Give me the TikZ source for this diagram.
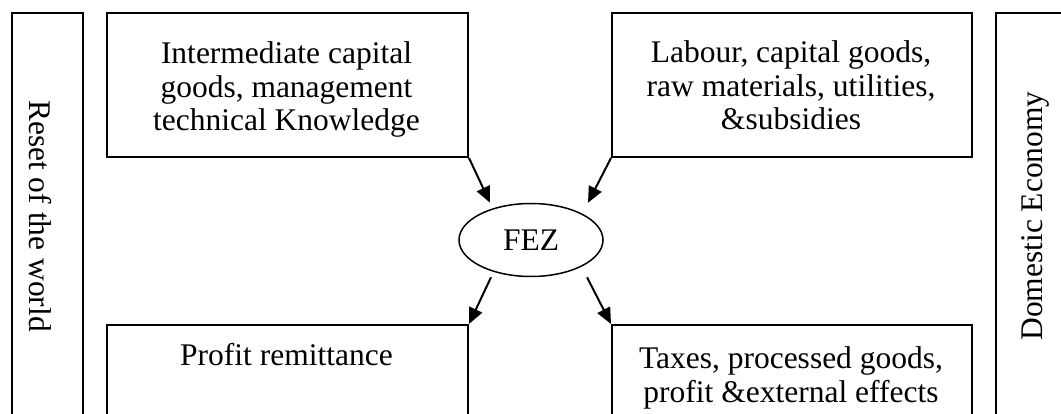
\documentclass[tikz,border=0pt]{standalone}
\usepackage{fontspec}
\setmainfont{Liberation Serif}
\usetikzlibrary{arrows.meta,shapes.geometric,calc}
\tikzset{
  boxshape/.style={draw=black, line width=2pt, rectangle, inner sep=0pt, anchor=north west},
  txt/.style={inner sep=0pt, align=center, font=\fontsize{31.5}{33.5}\selectfont},
  sidetxt/.style={inner sep=0pt, anchor=base, font=\fontsize{31.5}{33.5}\selectfont},
  arr/.style={line width=2pt, -{Triangle[length=16pt,width=14pt]}},
}
\begin{document}
\begin{tikzpicture}[x=1pt,y=-1pt]
\useasboundingbox (0,0) rectangle (1061,414);
\clip (0,0) rectangle (1061,414);
% side boxes
\node[boxshape, minimum width=71pt, minimum height=408pt] (rw) at (11,12) {};
\node[boxshape, minimum width=71pt, minimum height=408pt] (de) at (995,12) {};
\node[sidetxt, rotate=-90] (rwt) at (30,216) {Reset of the world};
\node[sidetxt, rotate=90] (det) at (1042,216) {Domestic Economy};
% main boxes
\node[boxshape, minimum width=361pt, minimum height=144pt] (tl) at (106,12) {};
\node[boxshape, minimum width=360pt, minimum height=144pt] (tr) at (611,12) {};
\node[boxshape, minimum width=361pt, minimum height=110pt] (bl) at (106,324) {};
\node[boxshape, minimum width=360pt, minimum height=110pt] (br) at (611,324) {};
\node[txt, anchor=north] (tlt) at (286.5,41.5) {Intermediate capital\\goods, management\\technical Knowledge};
\node[txt, anchor=north] (trt) at (791,40.5) {Labour, capital goods,\\raw materials, utilities,\\\&subsidies};
\node[txt, anchor=north] (blt) at (286.5,343.5) {Profit remittance};
\node[txt, anchor=north] (brt) at (791,346.5) {Taxes, processed goods,\\profit \&external effects};
% centre
\node[draw=black, line width=1.5pt, ellipse, minimum width=144pt, minimum height=73pt, inner sep=0pt, font=\fontsize{31.5}{33.5}\selectfont] (fez) at (531,240) {FEZ};
% arrows
\draw[arr] (tl.south east) -- ($(fez.north)+(-41,0)$);
\draw[arr] (tr.south west) -- ($(fez.north)+(57,0)$);
\draw[arr] ($(fez.south)+(-40,0)$) -- (bl.north east);
\draw[arr] ($(fez.south)+(56,0)$) -- (br.north west);
\end{tikzpicture}
\end{document}
